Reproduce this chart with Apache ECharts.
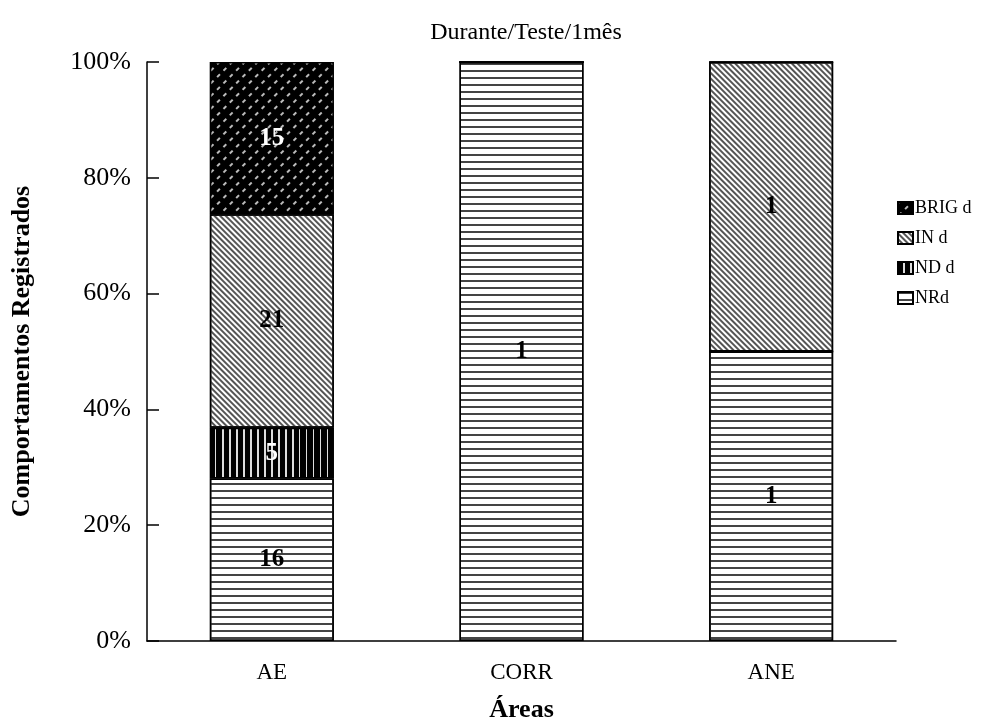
<!DOCTYPE html>
<html>
<head>
<meta charset="utf-8">
<script src="https://cdn.jsdelivr.net/npm/echarts@6/dist/echarts.min.js"></script>
<style>
  html, body { margin: 0; padding: 0; background: #fff; }
  #chart { width: 999px; height: 724px; }
</style>
</head>
<body>
<div id="chart"></div>
<script>
// categories and counts per behaviour (labels show counts, bars are % of total)
var areas = ['AE', 'CORR', 'ANE'];
var nrd   = [16, 1, 1];
var ndd   = [5, 0, 0];
var ind   = [21, 0, 1];
var brigd = [15, 0, 0];
var yTicks = [0, 20, 40, 60, 80, 100];

var totals = areas.map(function (a, i) {
    return nrd[i] + ndd[i] + ind[i] + brigd[i];
});

function toPct(arr) {
    return arr.map(function (v, i) {
        return { value: v / totals[i] * 100, count: v };
    });
}

var serif = 'Liberation Serif';

var labelOpt = function (color) {
    return {
        show: true,
        position: 'inside',
        fontFamily: serif,
        fontWeight: 'bold',
        fontSize: 25,
        color: color,
        formatter: function (p) { return p.data.count ? p.data.count : ''; }
    };
};

var chart = echarts.init(document.getElementById('chart'));

var opt = {
    backgroundColor: '#fff',
    animation: false,
    title: {
        text: 'Durante/Teste/1mês',
        left: 521,
        textAlign: 'center',
        top: 16,
        textStyle: { fontFamily: serif, fontWeight: 'normal', fontSize: 24, color: '#000' }
    },
    legend: {
        orient: 'vertical',
        left: 892,
        top: 194,
        itemGap: 12,
        itemWidth: 15,
        itemHeight: 12,
        icon: 'rect',
        data: ['BRIG d', 'IN d', 'ND d', 'NRd'],
        textStyle: { fontFamily: serif, fontSize: 18, color: '#000', padding: [0, 0, 0, -3] }
    },
    grid: { left: 147, right: 103, top: 62, bottom: 83, containLabel: false, outerBoundsMode: 'none' },
    xAxis: {
        type: 'category',
        data: areas,
        name: 'Áreas',
        nameLocation: 'middle',
        nameGap: 56,
        nameTextStyle: { fontFamily: serif, fontWeight: 'bold', fontSize: 26, color: '#000' },
        axisLine: { lineStyle: { color: '#000', width: 1.5 } },
        axisTick: { show: false },
        axisLabel: { fontFamily: serif, fontSize: 23, color: '#000', margin: 20 }
    },
    yAxis: {
        type: 'value',
        min: 0,
        max: 100,
        interval: 20,
        name: 'Comportamentos Registrados',
        nameLocation: 'middle',
        nameGap: 112,
        nameTextStyle: { fontFamily: serif, fontWeight: 'bold', fontSize: 26, color: '#000' },
        axisLine: { show: true, lineStyle: { color: '#000', width: 1.5 } },
        axisTick: { show: true, inside: true, length: 12, lineStyle: { color: '#000', width: 1.5 } },
        splitLine: { show: false },
        axisLabel: {
            fontFamily: serif, fontSize: 26, color: '#000', margin: 16,
            formatter: function (v) { return yTicks.indexOf(v) >= 0 ? v + '%' : ''; }
        }
    },
    series: [
        {
            name: 'NRd', type: 'bar', stack: 'all', barWidth: 124,
            data: toPct(nrd),
            itemStyle: {
                color: '#fff', borderColor: '#000', borderWidth: 1.5,
                decal: { symbol: 'rect', symbolSize: 1, color: '#444', dashArrayX: [[1, 0]], dashArrayY: [2, 4.5], rotation: 0 }
            },
            label: labelOpt('#000')
        },
        {
            name: 'ND d', type: 'bar', stack: 'all', barWidth: 124,
            data: toPct(ndd),
            itemStyle: {
                color: '#000', borderColor: '#000', borderWidth: 1.5,
                decal: { symbol: 'rect', symbolSize: 1, color: '#ddd', dashArrayX: [[1, 0]], dashArrayY: [2, 5], rotation: Math.PI / 2 }
            },
            label: labelOpt('#fff')
        },
        {
            name: 'IN d', type: 'bar', stack: 'all', barWidth: 124,
            data: toPct(ind),
            itemStyle: {
                color: '#fff', borderColor: '#000', borderWidth: 1.5,
                decal: { symbol: 'rect', symbolSize: 1, color: '#555', dashArrayX: [[1, 0]], dashArrayY: [2, 2], rotation: Math.PI / 4 }
            },
            label: labelOpt('#000')
        },
        {
            name: 'BRIG d', type: 'bar', stack: 'all', barWidth: 124,
            data: toPct(brigd),
            itemStyle: {
                color: '#000', borderColor: '#000', borderWidth: 1.5,
                decal: { symbol: 'rect', symbolSize: 1, color: '#bbb', dashArrayX: [4, 5], dashArrayY: [1.5, 7], rotation: -Math.PI / 4 }
            },
            label: labelOpt('#fff')
        }
    ]
};

chart.setOption(opt);
</script>
</body>
</html>
